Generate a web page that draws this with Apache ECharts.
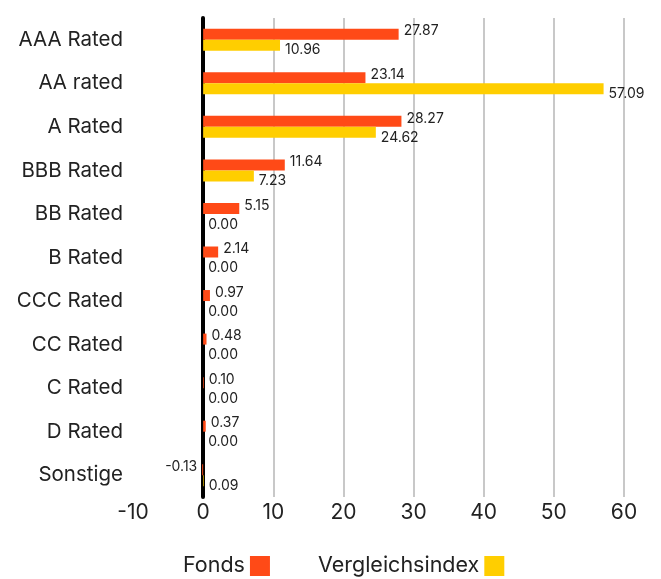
<!DOCTYPE html>
<html>
<head>
<meta charset="utf-8">
<script src="https://cdn.jsdelivr.net/npm/echarts@6/dist/echarts.min.js"></script>
<style>
body{margin:0;background:#fff;}
#chart{width:661px;height:579px;}
</style>
</head>
<body>
<div id="chart"></div>
<script type="text/javascript">
var categories = ['AAA Rated','AA rated','A Rated','BBB Rated','BB Rated','B Rated','CCC Rated','CC Rated','C Rated','D Rated','Sonstige'];
var fonds = [27.87, 23.14, 28.27, 11.64, 5.15, 2.14, 0.97, 0.48, 0.10, 0.37, -0.13];
var vergleich = [10.96, 57.09, 24.62, 7.23, 0.00, 0.00, 0.00, 0.00, 0.00, 0.00, 0.09];

var font = 'Inter, "Liberation Sans", sans-serif';

function labelled(arr, dy){
  return arr.map(function(v){
    return {
      value: v,
      label: {position: v < 0 ? 'left' : 'right', offset: [0, dy]}
    };
  });
}

var chart = echarts.init(document.getElementById('chart'));
chart.setOption({
  animation: false,
  textStyle: {fontFamily: font},
  grid: {left: 133, right: 37, top: 18, bottom: 82},
  legend: {
    bottom: -3,
    left: 178,
    align: 'right',
    itemWidth: 20,
    itemHeight: 20,
    itemGap: 48,
    icon: 'rect',
    textStyle: {fontSize: 21.5, color: '#222', fontFamily: font},
    data: ['Fonds', 'Vergleichsindex']
  },
  xAxis: {
    type: 'value',
    min: -10,
    max: 60,
    interval: 10,
    axisLine: {show: false},
    axisTick: {show: false},
    axisLabel: {fontSize: 21, color: '#222', margin: 5},
    splitLine: {
      lineStyle: {
        width: 2,
        color: ['rgba(0,0,0,0)', '#c8c8c8', '#c8c8c8', '#c8c8c8', '#c8c8c8', '#c8c8c8', '#c8c8c8', '#c8c8c8']
      }
    }
  },
  yAxis: {
    type: 'category',
    inverse: true,
    data: categories,
    axisLine: {onZero: true, lineStyle: {color: '#000', width: 4}},
    axisTick: {show: false},
    axisLabel: {fontSize: 20.5, color: '#222', margin: 10}
  },
  series: [
    {
      name: 'Fonds',
      type: 'bar',
      data: labelled(fonds, -3),
      barWidth: 11,
      barGap: '0%',
      itemStyle: {color: '#FF4A17'},
      label: {show: true, fontSize: 14, color: '#222', distance: 5,
        formatter: function(p){ return p.value.toFixed(2); }}
    },
    {
      name: 'Vergleichsindex',
      type: 'bar',
      data: labelled(vergleich, 5),
      barWidth: 11,
      itemStyle: {color: '#FFCE00'},
      label: {show: true, fontSize: 14, color: '#222', distance: 5,
        formatter: function(p){ return p.value.toFixed(2); }}
    }
  ]
});
</script>
</body>
</html>
